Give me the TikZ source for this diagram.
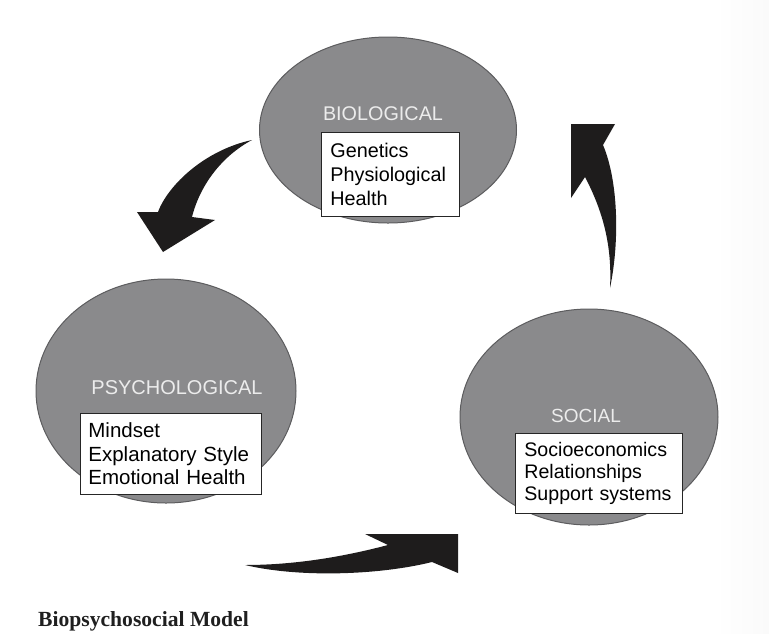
\documentclass[tikz,border=0pt]{standalone}
\usepackage{fontspec}
\setmainfont{Liberation Sans}
\newfontfamily\captionfont{Liberation Serif}
\usetikzlibrary{shapes.geometric, positioning}
\definecolor{blobgray}{RGB}{138,138,140}
\definecolor{blobline}{RGB}{92,92,94}
\definecolor{headwhite}{RGB}{236,236,236}
\definecolor{arrowblack}{RGB}{30,28,28}

\tikzset{
    blob/.style={ellipse, draw=blobline, fill=blobgray, line width=1pt, inner sep=0pt},
    heading/.style={text=headwhite, inner sep=0pt},
    infobox/.style={draw=black!85, fill=white, line width=0.8pt, align=left, anchor=north west, inner xsep=9pt, inner ysep=0pt},
    bigarrow/.style={fill=arrowblack, draw=none}
}

\begin{document}
\begin{tikzpicture}[x=1pt, y=-1pt]
    \useasboundingbox (0,0) rectangle (769,633);
    % faint shade on the right margin
    \shade[left color=white, right color=black!2] (715,0) rectangle (769,633);

    % Circles
    \node[blob, minimum width=257pt, minimum height=186pt] (bio) at (388,130) {};
    \node[blob, minimum width=260pt, minimum height=224pt] (psych) at (166,391) {};
    \node[blob, minimum width=258pt, minimum height=216pt] (social) at (589,417) {};

    % Headings
    \node[heading, font=\fontsize{19.8}{24}\selectfont] (biohead) at (383,114) {BIOLOGICAL};
    \node[heading, font=\fontsize{20}{24}\selectfont] (psychhead) at (177,388) {PSYCHOLOGICAL};
    \node[heading, font=\fontsize{19}{24}\selectfont] (socialhead) at (586,416) {SOCIAL};

    % Boxes
    \node[infobox, text width=120pt, minimum height=84pt, font=\fontsize{19.8}{24}\selectfont] (biobox) at (321,132) {Genetics\\Physiological\\Health};
    \node[infobox, inner xsep=8pt, text width=165pt, minimum height=81pt, font=\fontsize{20.5}{23.5}\selectfont] (psychbox) at (80,413) {Mindset\\Explanatory Style\\Emotional Health};
    \node[infobox, text width=149pt, minimum height=80pt, font=\fontsize{19.6}{22}\selectfont] (socialbox) at (515,433) {Socioeconomics\\Relationships\\Support systems};

    % Arrows
    \fill[bigarrow] (252,140) .. controls (205,150) and (168,185) .. (158,212)
        -- (137,212) -- (163,252) -- (215,220) -- (192,217)
        .. controls (200,185) and (222,156) .. (252,140) -- cycle;
    \fill[bigarrow] (245,565) .. controls (300,565) and (350,555) .. (388,545)
        -- (365,534) -- (458,534) -- (458,573) -- (432,562)
        .. controls (380,575) and (300,578) .. (245,565) -- cycle;
    \fill[bigarrow] (610,288) .. controls (620,240) and (618,180) .. (603,145)
        -- (615,124) -- (571,124) -- (571,198) -- (585,177)
        .. controls (605,215) and (612,250) .. (610,288) -- cycle;

    % Caption
    \node[anchor=base west, inner sep=0pt, text=black!88, font=\captionfont\bfseries\fontsize{21.6}{24}\selectfont] (caption) at (38,626) {Biopsychosocial Model};
\end{tikzpicture}
\end{document}
